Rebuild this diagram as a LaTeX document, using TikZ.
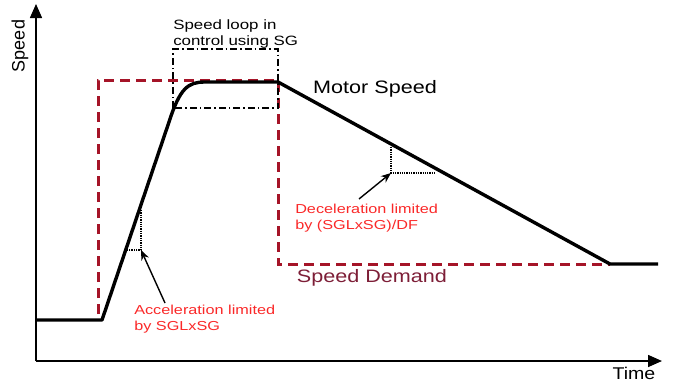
\documentclass[tikz,border=0pt]{standalone}
\usepackage{fontspec}
\setmainfont{Liberation Sans}
\usetikzlibrary{arrows.meta}

\definecolor{demandred}{RGB}{165,20,40}
\definecolor{demandtext}{RGB}{125,30,55}
\definecolor{notered}{RGB}{250,40,40}

\tikzset{
  axis/.style={line width=1.6pt,-{Triangle[length=14pt,width=12pt]}},
  motor/.style={line width=3.4pt,line join=round},
  demand/.style={demandred,line width=3pt,dash pattern=on 10pt off 6pt},
  loopbox/.style={line width=1.4pt,dash pattern=on 7pt off 3pt on 1.5pt off 3pt},
  limit/.style={line width=1.3pt,densely dotted},
  bigtext/.style={font=\fontsize{18}{21}\selectfont,xscale=1.2},
  note/.style={notered,font=\fontsize{13}{15.5}\selectfont,xscale=1.25,align=left,inner sep=0pt},
  pointer/.style={line width=1.4pt,-{Stealth[length=10pt,width=8pt]}}
}

\begin{document}
\begin{tikzpicture}[x=1pt,y=-1pt]
\useasboundingbox (0,0) rectangle (681,383);

% Axes
\coordinate (origin) at (36,361);
\coordinate (ytop) at (36,4);
\coordinate (xend) at (662,361);
\draw[axis] (origin) -- (ytop);
\draw[axis] (origin) -- (xend);

\node[rotate=90,font=\fontsize{18}{21}\selectfont] (speedlbl) at (20,46) {Speed};
\node[font=\fontsize{17}{20}\selectfont,xscale=1.15] (timelbl) at (634,373) {Time};

% Speed demand
\draw[demand] (98,314) -- (98,80) -- (278,80) -- (278,264) -- (610,264);
\node[bigtext,demandtext] (demandlbl) at (372,278) {Speed Demand};

% Speed loop in control
\draw[loopbox] (173,108) rectangle (278,49);
\node[font=\fontsize{13.5}{16}\selectfont,xscale=1.25,align=left,anchor=north west,inner sep=0pt]
  (looplbl) at (173,20) {Speed loop in\\control using SG};

% Motor speed
\draw[motor] (36,320) -- (102,320) -- (169,122)
  .. controls (180,88) and (188,82) .. (205,82)
  -- (278,82) -- (610,264) -- (658,264);
\node[bigtext] (motorlbl) at (375,89) {Motor Speed};

% Acceleration limit
\coordinate (acctop) at (141,210);
\coordinate (acccorner) at (141,250);
\coordinate (accleft) at (127,250);
\draw[limit] (acctop) -- (acccorner) -- (accleft);
\node[note,anchor=north west] (acclbl) at (134,305) {Acceleration limited\\by SGLxSG};
\draw[pointer] (165,303) -- (acccorner);

% Deceleration limit
\coordinate (dectop) at (391,147);
\coordinate (deccorner) at (391,173);
\coordinate (decright) at (436,173);
\draw[limit] (dectop) -- (deccorner) -- (decright);
\node[note,anchor=north west] (declbl) at (295,204) {Deceleration limited\\by (SGLxSG)/DF};
\draw[pointer] (359,199) -- (deccorner);

\end{tikzpicture}
\end{document}
